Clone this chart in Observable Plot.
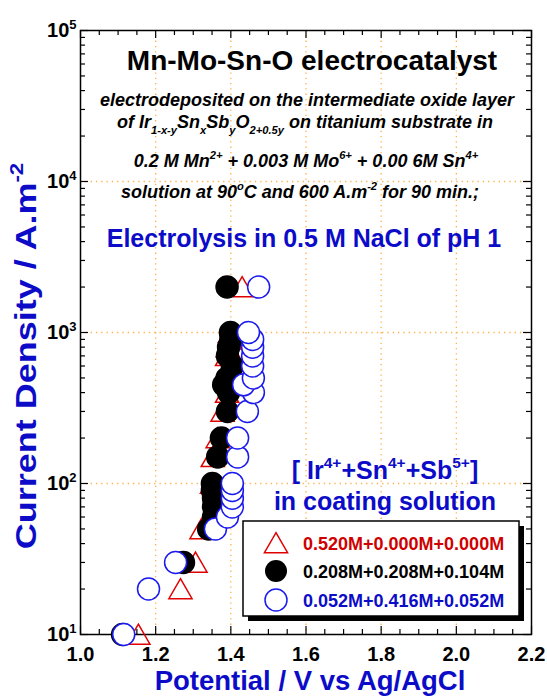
<!DOCTYPE html>
<html><head><meta charset="utf-8">
<script src="https://cdn.jsdelivr.net/npm/d3@7"></script>
<script src="https://cdn.jsdelivr.net/npm/@observablehq/plot@0.6"></script>
<style>body{margin:0;background:#fff} svg{display:block}</style>
</head><body><div id="chart"></div>
<script>
// ---- data ----
const seriesLabels = ["0.520M+0.000M+0.000M", "0.208M+0.208M+0.104M", "0.052M+0.416M+0.052M"];
const currentRed   = [10, 20, 30, 50, 100, 150, 200, 300, 400, 500, 600, 700, 800, 900, 1000, 2000];
const potentialRed = [1.154, 1.266, 1.306, 1.322, 1.350, 1.352, 1.365, 1.378, 1.390, 1.388, 1.400, 1.390, 1.392, 1.398, 1.398, 1.430];
const currentBlack   = [10, 30, 50, 60, 70, 80, 90, 100, 150, 200, 300, 400, 450, 500, 600, 700, 800, 900, 1000, 2000];
const potentialBlack = [1.112, 1.274, 1.341, 1.354, 1.354, 1.354, 1.351, 1.351, 1.365, 1.375, 1.391, 1.394, 1.381, 1.390, 1.404, 1.391, 1.394, 1.400, 1.399, 1.390];
const currentBlue   = [10, 20, 30, 50, 60, 70, 80, 90, 100, 150, 200, 300, 400, 450, 500, 600, 700, 800, 900, 1000, 2000];
const potentialBlue = [1.115, 1.181, 1.253, 1.359, 1.391, 1.404, 1.404, 1.404, 1.404, 1.418, 1.418, 1.444, 1.460, 1.434, 1.460, 1.458, 1.458, 1.458, 1.458, 1.447, 1.474];

const xMajor = [1.0, 1.2, 1.4, 1.6, 1.8, 2.0, 2.2];
const xMinor = [1.05, 1.1, 1.15, 1.25, 1.3, 1.35, 1.45, 1.5, 1.55, 1.65, 1.7, 1.75, 1.85, 1.9, 1.95, 2.05, 2.1, 2.15];
const xGrid = [1.2, 1.4, 1.6, 1.8, 2.0];
const yMajor = [10, 100, 1000, 10000, 100000];
const yGrid = [100, 1000, 10000];
const yDecades = [10, 100, 1000, 10000];
const yMantissa = [2, 3, 4, 5, 6, 7, 8, 9];
const yMinor = yDecades.flatMap(d => yMantissa.map(m => m * d));

const toRows = (c, p) => c.map((v, i) => ({c: v, p: p[i]}));
const red = toRows(currentRed, potentialRed);
const black = toRows(currentBlack, potentialBlack);
const blue = toRows(currentBlue, potentialBlue);

// ---- layout ----
const W = 547, H = 698;
const mL = 80, mR = 16, mT = 30, mB = 64;
const pw = W - mL - mR, ph = H - mT - mB;
const FONT = "Liberation Sans, Arial, Helvetica, sans-serif";
const RED = "#e00000", BLUE = "#1a1aee", TBLUE = "#0c0cc8";

const plot = Plot.plot({
  width: W, height: H,
  marginLeft: mL, marginRight: mR, marginTop: mT, marginBottom: mB,
  x: {domain: [1.0, 2.2]},
  y: {type: "log", domain: [10, 100000]},
  style: {fontFamily: FONT, background: "white", color: "black"},
  marks: [
    Plot.gridX(xGrid, {stroke: "#ffb04a", strokeOpacity: 1, strokeWidth: 1.3, strokeDasharray: "1.3,4"}),
    Plot.gridY(yGrid, {stroke: "#ffb04a", strokeOpacity: 1, strokeWidth: 1.3, strokeDasharray: "1.3,4"}),
    // inward ticks on all four sides
    Plot.tickX(xMajor, {x: d => d, insetTop: ph - 8, stroke: "black", strokeWidth: 1.2}),
    Plot.tickX(xMinor, {x: d => d, insetTop: ph - 5, stroke: "black", strokeWidth: 1.2}),
    Plot.tickX(xMajor, {x: d => d, insetBottom: ph - 8, stroke: "black", strokeWidth: 1.2}),
    Plot.tickX(xMinor, {x: d => d, insetBottom: ph - 5, stroke: "black", strokeWidth: 1.2}),
    Plot.tickY(yMajor, {y: d => d, insetRight: pw - 8, stroke: "black", strokeWidth: 1.2}),
    Plot.tickY(yMinor, {y: d => d, insetRight: pw - 5, stroke: "black", strokeWidth: 1.2}),
    Plot.tickY(yMajor, {y: d => d, insetLeft: pw - 8, stroke: "black", strokeWidth: 1.2}),
    Plot.tickY(yMinor, {y: d => d, insetLeft: pw - 5, stroke: "black", strokeWidth: 1.2}),
    Plot.axisX(xMajor, {tickSize: 0, tickPadding: 12, tickFormat: d => d.toFixed(1), fontSize: 20, fontWeight: "bold", label: null}),
    Plot.axisY(yMajor, {tickSize: 0, tickPadding: 4, tickFormat: d => "10|" + Math.round(Math.log10(d)), fontSize: 20, fontWeight: "bold", label: null}),
    Plot.frame({stroke: "black", strokeWidth: 1.5}),
    Plot.dot(red, {x: "p", y: "c", symbol: "triangle", r: 8.6, dy: 3, stroke: RED, strokeWidth: 1.5, fill: "none"}),
    Plot.dot(black, {x: "p", y: "c", r: 11, fill: "black", stroke: "black"}),
    Plot.dot(blue, {x: "p", y: "c", r: 11, fill: "white", stroke: BLUE, strokeWidth: 1.5})
  ]
});

document.getElementById("chart").appendChild(plot);
const svg = d3.select(plot);

// superscript exponents on y tick labels
svg.selectAll('g[aria-label="y-axis tick label"] text').each(function() {
  const [b, e] = this.textContent.split("|");
  const t = d3.select(this);
  t.text(null);
  t.append("tspan").text(b);
  t.append("tspan").attr("dy", -8).attr("font-size", 13).text(e);
});

// rich text helper
function rich(x, y, parts, opt) {
  const t = svg.append("text").attr("x", x).attr("y", y)
    .attr("text-anchor", opt.anchor || "middle")
    .attr("font-family", FONT).attr("font-size", opt.size)
    .attr("font-weight", opt.weight || "bold")
    .attr("font-style", opt.style || "normal")
    .attr("fill", opt.fill || "black");
  if (opt.transform) t.attr("transform", opt.transform);
  let shift = 0;
  for (const p of parts) {
    const s = t.append("tspan");
    let target = 0;
    if (typeof p === "string") { s.text(p); }
    else {
      target = p.sub ? opt.size * 0.35 : -opt.size * 0.45;
      s.attr("font-size", opt.size * 0.62).text(p.t);
    }
    if (target - shift !== 0) s.attr("dy", target - shift);
    shift = target;
  }
  return t;
}

rich(312, 70, ["Mn-Mo-Sn-O electrocatalyst"], {size: 28});
rich(307, 106, ["electrodeposited on the intermediate oxide layer"], {size: 18, style: "italic"});
rich(305, 128, ["of Ir", {t: "1-x-y", sub: true}, "Sn", {t: "x", sub: true}, "Sb", {t: "y", sub: true}, "O", {t: "2+0.5y", sub: true}, " on titanium substrate in"], {size: 18, style: "italic"});
rich(306, 167, ["0.2 M Mn", {t: "2+"}, " + 0.003 M Mo", {t: "6+"}, " + 0.00 6M Sn", {t: "4+"}], {size: 18, style: "italic"});
rich(300, 198, ["solution at 90", {t: "o"}, "C and 600 A.m", {t: "-2"}, " for 90 min.;"], {size: 18, style: "italic"});
rich(304, 247, ["Electrolysis in 0.5 M NaCl of pH 1"], {size: 25, fill: TBLUE});
rich(385, 479, ["[ Ir", {t: "4+"}, "+Sn", {t: "4+"}, "+Sb", {t: "5+"}, "]"], {size: 25, fill: TBLUE});
rich(385, 510, ["in coating solution"], {size: 25, fill: TBLUE});

// axis titles
rich(310, 690, ["Potential / V vs Ag/AgCl"], {size: 27.5, fill: TBLUE});
rich(0, 0, ["Current Density / A.m", {t: "-2"}], {size: 30, fill: TBLUE, transform: "translate(36,356) rotate(-90) scale(1.2,1)"});

// legend box with shadow
const lg = {x: 243, y: 521, w: 276, h: 95};
svg.append("rect").attr("x", lg.x + 5).attr("y", lg.y + 5).attr("width", lg.w).attr("height", lg.h).attr("fill", "black");
svg.append("rect").attr("x", lg.x).attr("y", lg.y).attr("width", lg.w).attr("height", lg.h).attr("fill", "white").attr("stroke", "black").attr("stroke-width", 1.5);
const rowsY = [543, 571, 600];
const sym = [d3.symbol(d3.symbolTriangle, Math.PI * 8.6 * 8.6)(), d3.symbol(d3.symbolCircle, Math.PI * 11 * 11)(), d3.symbol(d3.symbolCircle, Math.PI * 11 * 11)()];
seriesLabels.forEach((lab, i) => {
  const g = svg.append("path").attr("d", sym[i]).attr("transform", `translate(276,${rowsY[i] + (i === 0 ? 3 : 0)})`);
  if (i === 0) g.attr("fill", "none").attr("stroke", RED).attr("stroke-width", 1.5);
  else if (i === 1) g.attr("fill", "black");
  else g.attr("fill", "white").attr("stroke", BLUE).attr("stroke-width", 1.5);
  rich(303, rowsY[i] + 6.5, [lab], {size: 18, anchor: "start", fill: i === 0 ? "#d00000" : i === 1 ? "black" : TBLUE});
});
</script>
</body></html>
